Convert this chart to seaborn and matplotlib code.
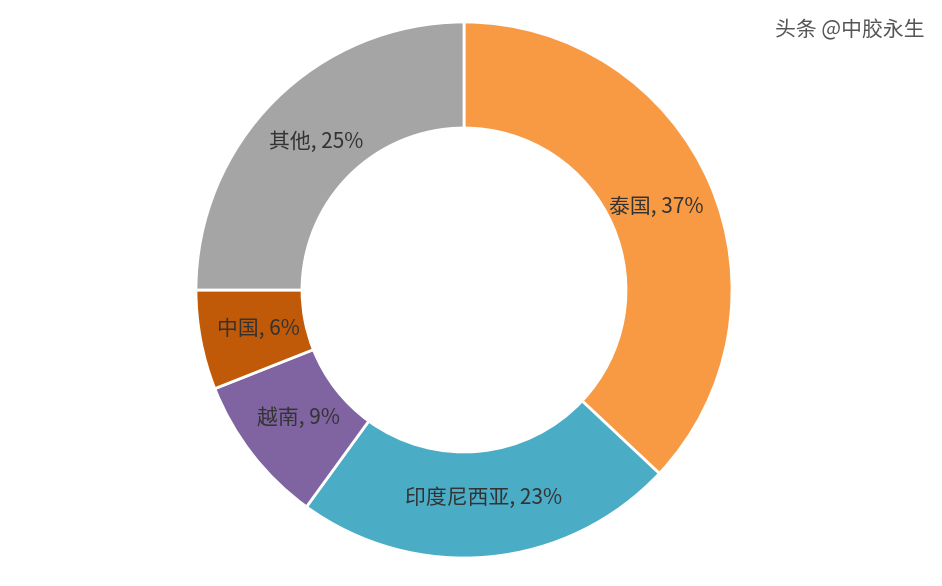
import matplotlib.pyplot as plt
import seaborn as sns

countries = ["泰国", "印度尼西亚", "越南", "中国", "其他"]
shares = [37, 23, 9, 6, 25]
colors = ["#F79A43", "#4BACC6", "#8064A2", "#C05A08", "#A5A5A5"]

sns.set_theme(style="white")
plt.rcParams['font.family'] = ['Noto Sans CJK SC', 'DejaVu Sans']

fig = plt.figure(figsize=(9.42, 5.86), dpi=100)
ax = fig.add_axes([0, 0, 1, 1])

labels = [f"{c}, {s}%" for c, s in zip(countries, shares)]
wedges, texts = ax.pie(shares, colors=colors, startangle=90, counterclock=False,
                       center=(464, 296), radius=268, labels=labels, labeldistance=0.78,
                       wedgeprops=dict(width=106, edgecolor="white", linewidth=2),
                       textprops=dict(fontsize=15, color="#333333", va="center"))
for t in texts:
    t.set_horizontalalignment("center")

# pie resets limits for a unit radius, so set them after
ax.set_xlim(0, 942)
ax.set_ylim(0, 586)
ax.set_aspect("equal")
ax.axis("off")

ax.text(925, 556, "头条 @中胶永生", fontsize=15, color="#555555", ha="right", va="center")

fig.savefig("out.png", dpi=100)
